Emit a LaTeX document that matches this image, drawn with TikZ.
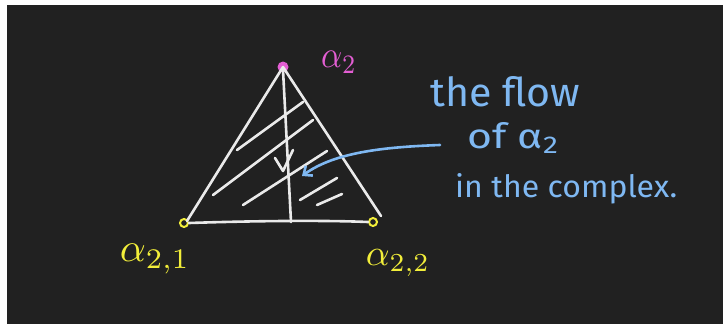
\documentclass[tikz,border=0pt]{standalone}
\usepackage{fontspec}
\setmainfont{Fira Sans}
\usetikzlibrary{arrows.meta}
\definecolor{bgdark}{HTML}{212121}
\definecolor{chalk}{HTML}{EAEAEA}
\definecolor{pinkink}{HTML}{E35ED3}
\definecolor{yellowink}{HTML}{F2EE3A}
\definecolor{blueink}{HTML}{7FB8F2}
\tikzset{
  stroke/.style={draw=chalk, line width=2.6pt, line cap=round, line join=round},
  vdot/.style={circle, draw=yellowink, line width=2pt, inner sep=0pt, minimum size=8pt},
  tdot/.style={circle, fill=pinkink, inner sep=0pt, minimum size=11pt},
  ylabel/.style={text=yellowink, inner sep=0pt},
  btext/.style={text=blueink, inner sep=0pt, anchor=base west},
}
\begin{document}
\begin{tikzpicture}[x=1pt,y=-1pt]
\useasboundingbox (0,0) rectangle (723,324);
\fill[white] (0,0) rectangle (723,324);
\fill[bgdark] (7,5) rectangle (723,324);

% vertices
\node[tdot] (A) at (283,67) {};
\node[vdot] (L) at (184,223) {};
\node[vdot] (R) at (373,222) {};
\coordinate (Rend) at (381,216);
\coordinate (Lend) at (187,221);
\coordinate (Vtop) at (283,70);
\coordinate (Vbot) at (291,222);

% triangle
\draw[stroke] (Lend) -- (A.center);
\draw[stroke] (A.center) -- (Rend);
\draw[stroke] (L.east) .. controls (250,221) and (320,220) .. (R.west);
\draw[stroke] (Vtop) -- (Vbot);

% flow chevron
\coordinate (Ctip) at (283,171);
\coordinate (Cl) at (275,158);
\coordinate (Cr) at (293,150);
\draw[stroke] (Cl) -- (Ctip) -- (Cr);

% hatches
\coordinate (h1a) at (237,150); \coordinate (h1b) at (303,102);
\coordinate (h2a) at (213,195); \coordinate (h2b) at (313,120);
\coordinate (h3a) at (243,205); \coordinate (h3b) at (327,151);
\coordinate (h4a) at (300,200); \coordinate (h4b) at (337,178);
\coordinate (h5a) at (317,205); \coordinate (h5b) at (342,194);
\draw[stroke] (h1a) -- (h1b);
\draw[stroke] (h2a) -- (h2b);
\draw[stroke] (h3a) -- (h3b);
\draw[stroke] (h4a) -- (h4b);
\draw[stroke] (h5a) -- (h5b);

% labels
\node[text=pinkink, inner sep=0pt] (atop) at (339,62) {\scalebox{3.3}[3.8]{$\alpha_2$}};
\node[ylabel] (a21) at (155,259) {\resizebox{70pt}{!}{$\alpha_{2,1}$}};
\node[ylabel] (a22) at (398,263) {\resizebox{64pt}{!}{$\alpha_{2,2}$}};

\node[btext] (t1) at (430,106) {\resizebox{150pt}{30pt}{the flow}};
\node[btext] (t2) at (467,148) {\resizebox{93pt}{26pt}{of α\textsubscript{2}}};
\node[btext] (t3) at (455,197) {\resizebox{222pt}{24pt}{in the complex.}};

% blue arrow
\coordinate (arrS) at (440,145);
\coordinate (arrE) at (302,176);
\draw[draw=blueink, line width=2.6pt, line cap=round, -{Straight Barb[length=7pt,width=12pt]}]
  (arrS) .. controls (385,147) and (335,152) .. (arrE);
\end{tikzpicture}
\end{document}
